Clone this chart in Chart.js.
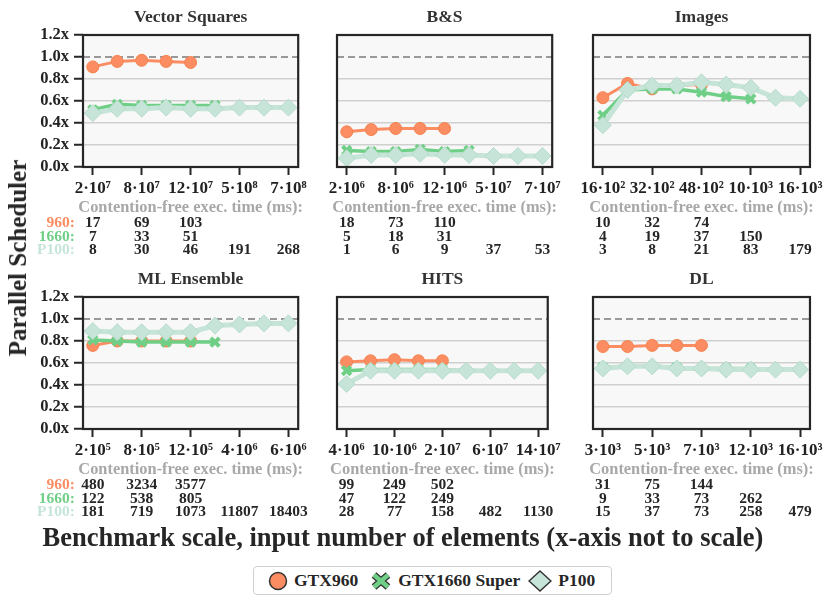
<!DOCTYPE html>
<html>
<head>
<meta charset="utf-8">
<script src="https://cdn.jsdelivr.net/npm/chart.js@4.4.0/dist/chart.umd.min.js"></script>
<style>
body { margin:0; width:831px; height:604px; background:#fff; position:relative; overflow:hidden;
       font-family:"Liberation Serif", serif; font-weight:bold; color:#262626; }
canvas { position:absolute; }
#ytitle { position:absolute; left:18px; top:258px; transform:translate(-50%,-50%) rotate(-90deg);
          font-size:25px; white-space:nowrap; }
#xtitle { position:absolute; left:403px; top:537px; transform:translate(-50%,-50%);
          font-size:26.5px; white-space:nowrap; }
#legend { position:absolute; left:253px; top:566px; width:357px; height:27px; border:1.5px solid #d0d0d0;
          border-radius:4px; display:flex; align-items:center; font-size:17.5px; }
#legend span { display:inline-flex; align-items:center; }
#legend svg { margin-right:6px; }
</style>
</head>
<body>
<canvas id="c0"></canvas><canvas id="c1"></canvas><canvas id="c2"></canvas>
<canvas id="c3"></canvas><canvas id="c4"></canvas><canvas id="c5"></canvas>
<div id="ytitle">Parallel Scheduler</div>
<div id="xtitle">Benchmark scale, input number of elements (x-axis not to scale)</div>
<div id="legend">
  <span style="margin-left:14px"><svg width="20" height="20"><circle cx="10" cy="10" r="8.5" fill="#fc8d62" stroke="#333" stroke-width="1.5"/></svg>GTX960</span>
  <span style="margin-left:12px"><svg width="22" height="20"><path d="M4 4 L18 16 M18 4 L4 16" stroke="#333" stroke-width="7" stroke-linecap="butt"/><path d="M4 4 L18 16 M18 4 L4 16" stroke="#6fcf87" stroke-width="4.5"/></svg>GTX1660 Super</span>
  <span style="margin-left:8px"><svg width="24" height="22"><path d="M12 1 L23 11 L12 21 L1 11 Z" fill="#c6e5d8" stroke="#333" stroke-width="1.5"/></svg>P100</span>
</div>
<script>
// benchmarks, one panel each
var titles = ['Vector Squares', 'B&S', 'Images', 'ML Ensemble', 'HITS', 'DL'];

// x tick labels (at positions 0,2,4,6,8)
var tickLabels = [
  ['2·10⁷', '8·10⁷', '12·10⁷', '5·10⁸', '7·10⁸'],
  ['2·10⁶', '8·10⁶', '12·10⁶', '5·10⁷', '7·10⁷'],
  ['16·10²', '32·10²', '48·10²', '10·10³', '16·10³'],
  ['2·10⁵', '8·10⁵', '12·10⁵', '4·10⁶', '6·10⁶'],
  ['4·10⁶', '10·10⁶', '2·10⁷', '6·10⁷', '14·10⁷'],
  ['3·10³', '5·10³', '7·10³', '12·10³', '16·10³']
];

// speedup of the parallel scheduler
var gtx960 = [
  [0.91, 0.96, 0.97, 0.96, 0.95],
  [0.32, 0.34, 0.35, 0.35, 0.35],
  [0.63, 0.76, 0.71, 0.74, 0.75],
  [0.76, 0.80, 0.80, 0.80, 0.80],
  [0.61, 0.62, 0.63, 0.62, 0.62],
  [0.75, 0.75, 0.76, 0.76, 0.76]
];
var gtx1660 = [
  [0.52, 0.57, 0.56, 0.56, 0.56, 0.56],
  [0.15, 0.14, 0.14, 0.16, 0.14, 0.15],
  [0.47, 0.70, 0.71, 0.71, 0.68, 0.64, 0.62],
  [0.81, 0.80, 0.79, 0.79, 0.79, 0.79],
  [0.53, 0.54, 0.54, 0.54, 0.54, 0.53],
  [0.56, 0.57, 0.57, 0.56, 0.55, 0.55, 0.55]
];
var p100 = [
  [0.49, 0.53, 0.53, 0.54, 0.53, 0.53, 0.54, 0.54, 0.54],
  [0.08, 0.11, 0.11, 0.12, 0.11, 0.11, 0.10, 0.10, 0.10],
  [0.38, 0.70, 0.74, 0.74, 0.77, 0.75, 0.72, 0.63, 0.62],
  [0.89, 0.88, 0.88, 0.88, 0.88, 0.94, 0.95, 0.96, 0.96],
  [0.41, 0.53, 0.53, 0.53, 0.53, 0.53, 0.53, 0.53, 0.53],
  [0.55, 0.57, 0.57, 0.55, 0.55, 0.54, 0.54, 0.54, 0.54]
];
var refSpeedup = 1.0;

// contention-free exec. time (ms), at positions 0,2,4,6,8
var time960 = [['17','69','103'], ['18','73','110'], ['10','32','74'], ['480','3234','3577'], ['99','249','502'], ['31','75','144']];
var time1660 = [['7','33','51'], ['5','18','31'], ['4','19','37','150'], ['122','538','805'], ['47','122','249'], ['9','33','73','262']];
var timeP100 = [['8','30','46','191','268'], ['1','6','9','37','53'], ['3','8','21','83','179'],
                ['181','719','1073','11807','18403'], ['28','77','158','482','1130'], ['15','37','73','258','479']];

var rowNames = ['960:', '1660:', 'P100:'];

var col960 = '#fc8d62', col1660 = '#6fcf87', colP100 = '#c6e5d8';
var FONT = '"Liberation Serif", serif';

var panelDecor = {
  id: 'panelDecor',
  beforeDraw: function(chart) {
    var a = chart.chartArea, ctx = chart.ctx;
    ctx.save();
    ctx.fillStyle = '#f8f8f8';
    ctx.fillRect(a.left, a.top, a.right - a.left, a.bottom - a.top);
    ctx.restore();
  },
  afterDraw: function(chart, args, opts) {
    var a = chart.chartArea, ctx = chart.ctx, x = chart.scales.x;
    var p = opts.panel;
    ctx.save();
    ctx.strokeStyle = '#262626';
    ctx.lineWidth = 2.2;
    ctx.strokeRect(a.left, a.top, a.right - a.left, a.bottom - a.top);
    var cx = (a.left + a.right) / 2;
    ctx.textAlign = 'center';
    ctx.textBaseline = 'middle';
    ctx.font = 'bold 17.5px ' + FONT;
    ctx.fillStyle = '#333';
    ctx.fillText(titles[p], cx, 17);
    ctx.font = 'bold 16.4px ' + FONT;
    ctx.fillStyle = '#a8a8a8';
    ctx.fillText('Contention-free exec. time (ms):', cx, 208);
    var rows = [time960[p], time1660[p], timeP100[p]];
    var rowY = [223, 236.5, 250];
    ctx.font = 'bold 15.5px ' + FONT;
    ctx.fillStyle = '#262626';
    for (var r = 0; r < rows.length; r++) {
      for (var j = 0; j < rows[r].length; j++) {
        ctx.fillText(rows[r][j], x.getPixelForValue(j * 2), rowY[r]);
      }
    }
    if (p % 3 == 0) {
      var rc = [col960, col1660, colP100];
      ctx.textAlign = 'right';
      for (var r = 0; r < 3; r++) {
        ctx.fillStyle = rc[r];
        ctx.fillText(rowNames[r], 75, rowY[r]);
      }
    }
    ctx.restore();
  }
};

function pts(arr) {
  return arr.map(function(v, i) { return {x: i, y: v}; });
}

var canvasLeft = [0, 320, 576], canvasWidth = [310, 244, 250], yWidth = [83, 17, 17];

for (var p = 0; p < 6; p++) {
  var col = p % 3, row = Math.floor(p / 3);
  var el = document.getElementById('c' + p);
  el.width = canvasWidth[col];
  el.height = 262;
  el.style.left = canvasLeft[col] + 'px';
  el.style.top = (row * 262) + 'px';
  el.style.width = canvasWidth[col] + 'px';
  el.style.height = '262px';
  var first = col == 0;

  new Chart(el, {
    type: 'line',
    data: {
      datasets: [
        { label: 'P100', data: pts(p100[p]), order: 0,
          borderColor: colP100, borderWidth: 5, pointStyle: 'rectRot', pointRadius: 8.5,
          pointBackgroundColor: colP100, pointBorderColor: '#b6dccb', pointBorderWidth: 1 },
        { label: 'GTX1660 Super', data: pts(gtx1660[p]), order: 1,
          borderColor: col1660, borderWidth: 3.5, pointStyle: 'crossRot', pointRadius: 6,
          pointBorderColor: col1660, pointBorderWidth: 4 },
        { label: 'GTX960', data: pts(gtx960[p]), order: 2,
          borderColor: col960, borderWidth: 3, pointStyle: 'circle', pointRadius: 6,
          pointBackgroundColor: col960, pointBorderColor: '#f5834f', pointBorderWidth: 1 },
        { label: 'ref', data: [{x: -0.4, y: refSpeedup}, {x: 8.4, y: refSpeedup}], order: 3,
          borderColor: '#7a7a7a', borderWidth: 1.5, borderDash: [7, 4], pointRadius: 0 }
      ]
    },
    options: {
      responsive: false,
      animation: false,
      events: [],
      layout: { padding: { top: 35, bottom: 65, left: 0, right: col == 2 ? 11 : 5 } },
      plugins: { legend: { display: false }, tooltip: { enabled: false }, panelDecor: { panel: p } },
      scales: {
        x: {
          type: 'linear', min: -0.4, max: 8.4,
          afterFit: function(s) { s.height = 30; },
          afterBuildTicks: function(s) { s.ticks = [0, 2, 4, 6, 8].map(function(v) { return {value: v}; }); },
          border: { display: false },
          grid: { drawOnChartArea: false, drawTicks: true, tickLength: 8, tickColor: '#262626', tickWidth: 2 },
          ticks: {
            padding: 3, color: '#222', maxRotation: 0, autoSkip: false,
            font: { family: FONT, size: 17, weight: 'bold' },
            callback: (function(pp) { return function(v) { return tickLabels[pp][v / 2]; }; })(p)
          }
        },
        y: {
          min: 0, max: 1.2,
          afterFit: (function(w) { return function(s) { s.width = w; }; })(yWidth[col]),
          border: { display: false },
          grid: {
            color: function(c) { return Math.abs(c.tick.value - 1) < 1e-6 ? 'rgba(0,0,0,0)' : '#d0d0d0'; },
            lineWidth: 1.5,
            drawTicks: first, tickLength: 9, tickColor: '#262626', tickWidth: 2
          },
          ticks: {
            display: first, autoSkip: false, stepSize: 0.2, padding: 5, color: '#222',
            font: { family: FONT, size: 16.5, weight: 'bold' },
            callback: function(v) { return v.toFixed(1) + 'x'; }
          }
        }
      }
    },
    plugins: [panelDecor]
  });
}
</script>
</body>
</html>
